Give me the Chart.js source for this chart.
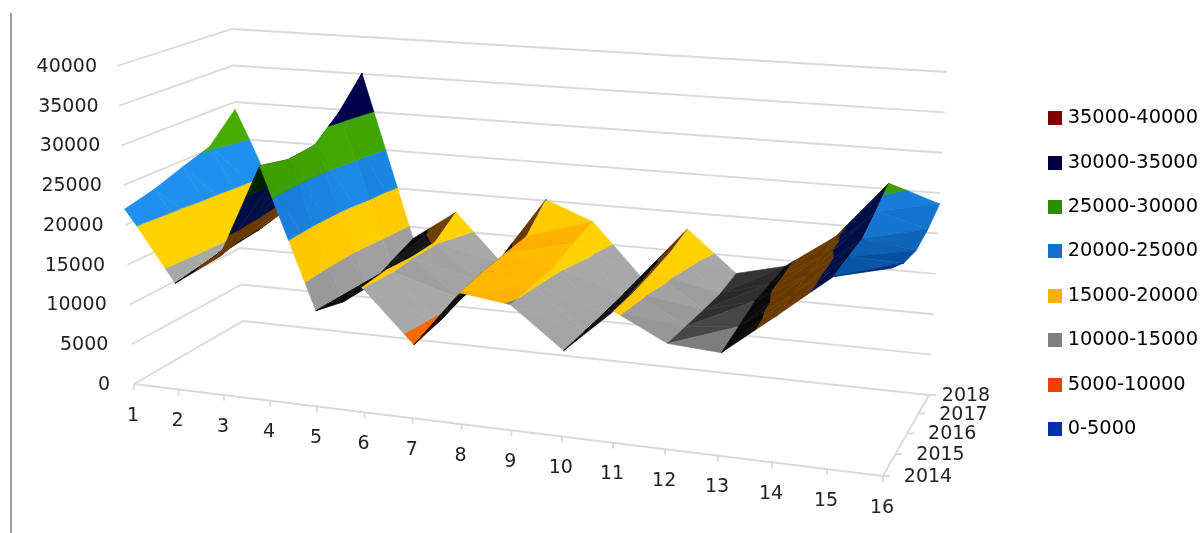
<!DOCTYPE html>
<html>
<head>
<meta charset="utf-8">
<title>Surface chart</title>
<script src="https://cdn.jsdelivr.net/npm/chart.js@4/dist/chart.umd.min.js"></script>
<style>
    html, body { margin: 0; padding: 0; background: #fff; }
    #wrap { position: relative; width: 1200px; height: 533px; overflow: hidden; }
    #rule { position: absolute; left: 10px; top: 13px; bottom: 0; width: 2px; background: #a0a0a0; }
    canvas { position: absolute; left: 0; top: 0; }
</style>
</head>
<body>
<div id="wrap">
    <div id="rule"></div>
    <canvas id="surfaceChart" width="1200" height="533"></canvas>
</div>
<script>
const categories = ["1", "2", "3", "4", "5", "6", "7", "8", "9", "10", "11", "12", "13", "14", "15", "16"];
const years = ["2014", "2015", "2016", "2017", "2018"];
const levels = [0, 5000, 10000, 15000, 20000, 25000, 30000, 35000, 40000];
const bandNames = ["0-5000", "5000-10000", "10000-15000", "15000-20000", "20000-25000", "25000-30000", "30000-35000", "35000-40000"];

const values2014 = [22000, 13250, 17100, 28900, 11660, 15100, 8800, 15700, 14900, 10100, 15400, 12300, 11900, 16800, 22000, 23600];
const values2015 = [22900, 13800, 18200, 28100, 10750, 15400, 9400, 16300, 15200, 10300, 15600, 12200, 12800, 17200, 22300, 22200];
const values2016 = [24200, 14200, 19500, 28400, 10700, 15100, 10400, 16700, 15500, 10500, 16100, 12100, 13800, 17600, 22500, 21700];
const values2017 = [25400, 14600, 20000, 31200, 12100, 15200, 10600, 17050, 16700, 10800, 16700, 12100, 14000, 18000, 24000, 22400];
const values2018 = [29000, 15400, 20000, 35030, 13400, 17400, 11000, 20050, 17700, 11100, 17800, 12700, 14200, 18500, 25700, 23650];
const surface = [values2014, values2015, values2016, values2017, values2018];

// colours per band: flat, lit from the right, gently rising, steeply rising
const legendColors = ["#0030b0", "#f04000", "#808080", "#ffb000", "#1070d0", "#2e8b00", "#000040", "#7b0000"];
const faceColors = [
    [[0, 40, 150], [0, 60, 200], [0, 20, 80], [0, 0, 40]],
    [[240, 70, 0], [255, 105, 0], [120, 40, 0], [50, 12, 0]],
    [[112, 112, 112], [168, 168, 168], [70, 70, 70], [10, 10, 10]],
    [[255, 168, 0], [255, 210, 0], [150, 90, 0], [105, 58, 0]],
    [[5, 80, 160], [32, 144, 240], [0, 60, 130], [0, 14, 70]],
    [[40, 125, 0], [70, 172, 0], [24, 70, 16], [0, 34, 0]],
    [[0, 0, 64], [0, 0, 80], [0, 0, 40], [0, 0, 64]],
    [[120, 0, 0], [150, 0, 0], [60, 0, 0], [40, 0, 0]],
];

// corners of the plot box on the page: front-left, front-right, back-right, back-left
const floorBox = [[134, 384], [883, 476], [929, 395], [243, 321]];
const ceilBox = [[117, 66], [897, 124], [947, 72], [232, 29]];
const maxLevel = 40000;

function squareToQuad(q) {
    const [p0, p1, p2, p3] = q;
    const sx = p0[0] - p1[0] + p2[0] - p3[0];
    const sy = p0[1] - p1[1] + p2[1] - p3[1];
    const dx1 = p1[0] - p2[0], dx2 = p3[0] - p2[0];
    const dy1 = p1[1] - p2[1], dy2 = p3[1] - p2[1];
    const den = dx1 * dy2 - dx2 * dy1;
    const g = (sx * dy2 - dx2 * sy) / den;
    const h = (dx1 * sy - sx * dy1) / den;
    const a = p1[0] - p0[0] + g * p1[0], b = p3[0] - p0[0] + h * p3[0];
    const d = p1[1] - p0[1] + g * p1[1], e = p3[1] - p0[1] + h * p3[1];
    return (u, w) => {
        const z = g * u + h * w + 1;
        return [(a * u + b * w + p0[0]) / z, (d * u + e * w + p0[1]) / z];
    };
}

const floorMap = squareToQuad(floorBox);
const ceilMap = squareToQuad(ceilBox);

// category index, year index, value -> page position
function project(i, j, v) {
    const u = i / (categories.length - 1);
    const w = j / (years.length - 1);
    const a = floorMap(u, w);
    const b = ceilMap(u, w);
    const t = v / maxLevel;
    const bulge = 4 * Math.sin(Math.PI * u);
    return { x: a[0] + (b[0] - a[0]) * t + bulge, y: a[1] + (b[1] - a[1]) * t };
}

// the surface itself sits a little further right than the axis ticks in mid-range
function surfacePoint(i, j, v) {
    const p = project(i, j, v);
    const u = i / (categories.length - 1);
    return { x: p.x + 6 * Math.sqrt(Math.sin(Math.PI * u)), y: p.y };
}

function clipBelow(poly, limit, keepBelow) {
    const out = [];
    poly.forEach((p, n) => {
        const q = poly[(n + 1) % poly.length];
        const pIn = keepBelow ? p[2] <= limit : p[2] >= limit;
        const qIn = keepBelow ? q[2] <= limit : q[2] >= limit;
        if (pIn) out.push(p);
        if (pIn !== qIn) {
            const t = (limit - p[2]) / (q[2] - p[2]);
            out.push([p[0] + (q[0] - p[0]) * t, p[1] + (q[1] - p[1]) * t, limit]);
        }
    });
    return out;
}

function mix(a, b, t) {
    t = Math.max(0, Math.min(1, t));
    return a.map((c, n) => Math.round(c + (b[n] - c) * t));
}

function faceColor(band, tri) {
    const [a, b, c] = tri;
    // slope of the triangle along category and year
    const ux = b[0] - a[0], uy = b[1] - a[1], uz = b[2] - a[2];
    const vx = c[0] - a[0], vy = c[1] - a[1], vz = c[2] - a[2];
    const det = ux * vy - vx * uy;
    const di = (uz * vy - vz * uy) / det;
    const dj = (ux * vz - vx * uz) / det;
    const [flat, lit, soft, dark] = faceColors[band];
    let rgb;
    if (di > 0) {
        // faces rising to the right turn away from the light
        rgb = di < 600 ? mix(flat, soft, di / 600) : mix(soft, dark, (di - 600) / 3000);
    } else {
        const sx = -di / 8000, sy = dj / 8000;
        const shade = (sx + 0.5 * sy + 1) / (1.5 * Math.sqrt(sx * sx + sy * sy + 1));
        rgb = mix(flat, lit, (shade - 0.667) / 0.276);
    }
    return `rgb(${rgb.join(",")})`;
}

const surfaceSets = [];
for (let i = 0; i < categories.length - 1; i++) {
    for (let j = years.length - 2; j >= 0; j--) {
        const corner = (a, b) => [a, b, surface[b][a]];
        const tris = [
            [corner(i, j), corner(i + 1, j + 1), corner(i, j + 1)],
            [corner(i + 1, j + 1), corner(i + 1, j), corner(i, j)],
        ];
        tris.forEach((tri) => {
            bandNames.forEach((name, band) => {
                let poly = clipBelow(tri, levels[band], false);
                if (poly.length) poly = clipBelow(poly, levels[band + 1], true);
                if (poly.length < 3) return;
                const color = faceColor(band, tri);
                const pts = poly.map((p) => surfacePoint(p[0], p[1], p[2]));
                pts.push(pts[0]);
                surfaceSets.push({
                    data: pts,
                    showLine: true,
                    fill: "shape",
                    backgroundColor: color,
                    borderColor: color,
                    borderWidth: 0.6,
                    pointRadius: 0,
                });
            });
        });
    }
}

const gridColor = "#d9d9d9";
const gridLine = (pts) => ({
    data: pts,
    showLine: true,
    fill: false,
    borderColor: gridColor,
    borderWidth: 1.8,
    pointRadius: 0,
});

const lastCat = categories.length - 1;
const lastYear = years.length - 1;
const gridSets = levels.map((v) => gridLine([project(0, 0, v), project(0, lastYear, v), project(lastCat, lastYear, v)]));
gridSets.push(gridLine([project(0, 0, 0), project(lastCat, 0, 0), project(lastCat, lastYear, 0)]));
categories.forEach((c, i) => {
    const p = project(i, 0, 0);
    gridSets.push(gridLine([p, { x: p.x, y: p.y + 6 }]));
});
years.forEach((y, j) => {
    const p = project(lastCat, j, 0);
    gridSets.push(gridLine([p, { x: p.x + 7, y: p.y }]));
});

// first dataset is painted last by Chart.js
const datasets = surfaceSets.reverse().concat(gridSets);

function swatch(color) {
    const c = document.createElement("canvas");
    c.width = 14;
    c.height = 14;
    const g = c.getContext("2d");
    g.fillStyle = color;
    g.fillRect(0, 0, 14, 14);
    return c;
}

const axisText = {
    id: "axisText",
    afterLayout(chart) {
        // legend sits a bit right of and below where the layout puts it
        chart.legend.left += 8;
        chart.legend.right += 8;
        chart.legend.top += 7;
        chart.legend.bottom += 7;
    },
    afterDraw(chart) {
        const { ctx, scales } = chart;
        ctx.save();
        ctx.fillStyle = "#222";
        ctx.font = '19px "DejaVu Sans"';
        ctx.textBaseline = "middle";
        ctx.textAlign = "right";
        levels.forEach((v) => {
            const p = project(0, 0, v);
            const off = -24 + 4 * v / maxLevel;
            ctx.fillText(String(v), scales.x.getPixelForValue(p.x + off), scales.y.getPixelForValue(p.y + 1));
        });
        ctx.textAlign = "center";
        categories.forEach((c, i) => {
            const p = project(i, 0, 0);
            ctx.fillText(c, scales.x.getPixelForValue(p.x - 1), scales.y.getPixelForValue(p.y + 32));
        });
        years.forEach((y, j) => {
            const p = project(lastCat, j, 0);
            const off = j === lastYear ? 37 : 45;
            ctx.fillText(y, scales.x.getPixelForValue(p.x + off), scales.y.getPixelForValue(p.y + 1));
        });
        ctx.restore();
    },
};

const pageScale = (size) => ({
    display: false,
    bounds: "data",
    reverse: size === "height",
    afterDataLimits: (s) => {
        s.min = 0;
        s.max = s[size];
    },
});

new Chart("surfaceChart", {
    type: "scatter",
    data: { datasets },
    options: {
        responsive: false,
        animation: false,
        events: [],
        layout: { padding: 0 },
        scales: { x: pageScale("width"), y: pageScale("height") },
        plugins: {
            tooltip: { enabled: false },
            legend: {
                position: "right",
                labels: {
                    usePointStyle: true,
                    pointStyleWidth: 6,
                    padding: 25,
                    color: "#222",
                    font: { family: "DejaVu Sans", size: 19.4 },
                    generateLabels: () => bandNames.map((name, n) => ({
                        text: name,
                        fillStyle: legendColors[n],
                        strokeStyle: legendColors[n],
                        pointStyle: swatch(legendColors[n]),
                        lineWidth: 0,
                        hidden: false,
                    })).reverse(),
                },
            },
        },
    },
    plugins: [axisText],
});
</script>
</body>
</html>
